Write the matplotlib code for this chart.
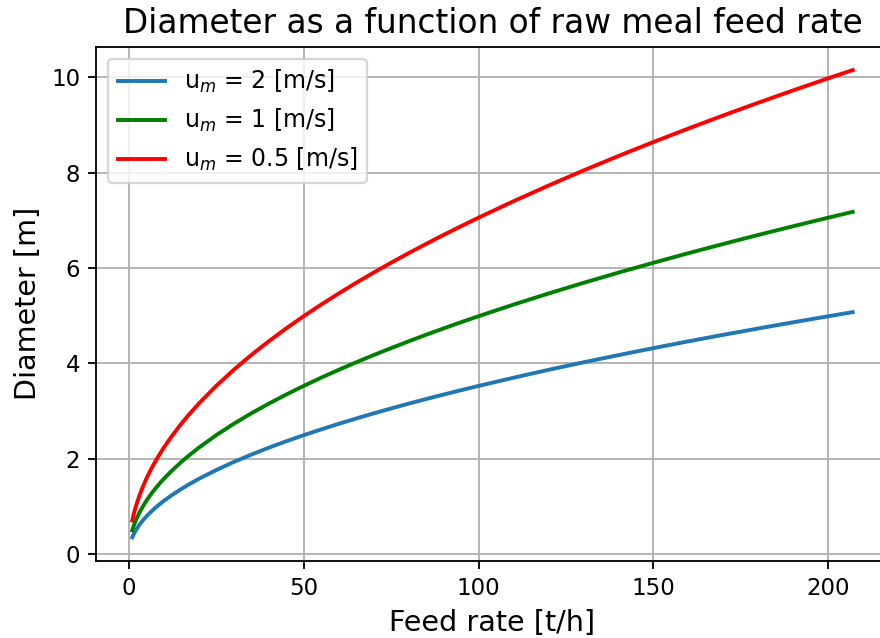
import matplotlib
matplotlib.use("Agg")
import matplotlib.pyplot as plt

# Feed rate [t/h] sample positions
feed_rate = [1, 1.2, 1.5, 2, 3, 4, 5, 6, 7, 8, 9, 10, 12, 15, 17, 20, 25, 30, 35, 40,
             45, 50, 55, 60, 65, 70, 75, 80, 85, 90, 95, 100, 110, 120, 130, 140,
             150, 160, 170, 180, 190, 200, 207]

# Diameter [m]
d_um2 = [0.353, 0.386, 0.432, 0.499, 0.611, 0.706, 0.789, 0.864, 0.933, 0.998,
         1.058, 1.116, 1.222, 1.366, 1.455, 1.578, 1.764, 1.932, 2.087, 2.231,
         2.367, 2.495, 2.616, 2.733, 2.844, 2.952, 3.055, 3.156, 3.253, 3.347,
         3.439, 3.528, 3.700, 3.865, 4.023, 4.174, 4.321, 4.463, 4.600, 4.733,
         4.863, 4.989, 5.076]
d_um1 = [0.499, 0.547, 0.611, 0.706, 0.864, 0.998, 1.116, 1.222, 1.320, 1.411,
         1.497, 1.578, 1.729, 1.933, 2.057, 2.232, 2.495, 2.733, 2.952, 3.156,
         3.347, 3.528, 3.701, 3.865, 4.023, 4.175, 4.321, 4.463, 4.601, 4.734,
         4.864, 4.990, 5.234, 5.466, 5.690, 5.904, 6.111, 6.312, 6.506, 6.695,
         6.878, 7.057, 7.179]
d_um05 = [0.706, 0.773, 0.864, 0.998, 1.222, 1.411, 1.578, 1.729, 1.867, 1.996,
          2.117, 2.232, 2.445, 2.733, 2.910, 3.156, 3.529, 3.865, 4.175, 4.463,
          4.734, 4.990, 5.234, 5.466, 5.690, 5.904, 6.112, 6.312, 6.506, 6.695,
          6.878, 7.057, 7.401, 7.730, 8.046, 8.350, 8.643, 8.926, 9.201, 9.468,
          9.727, 9.980, 10.153]

labels = ["u$_m$ = 2 [m/s]", "u$_m$ = 1 [m/s]", "u$_m$ = 0.5 [m/s]"]
colors = ["#1f77b4", "green", "red"]

DPI = 165
fig = plt.figure(figsize=(880 / DPI, 638 / DPI), dpi=DPI)
ax = fig.add_axes([0.1094, 0.1212, 1.0099 - 0.1094, 0.9268 - 0.1212])

for y, lab, c in zip([d_um2, d_um1, d_um05], labels, colors):
    ax.plot(feed_rate, y, color=c, label=lab, linewidth=1.7)

ax.set_title("Diameter as a function of raw meal feed rate", fontsize=14.3)
ax.set_xlabel("Feed rate [t/h]", fontsize=12.5)
ax.set_ylabel("Diameter [m]", fontsize=12.5)
ax.grid(True)
ax.legend(loc="upper left", fontsize=10.3)

fig.savefig("out.png", dpi=DPI)
